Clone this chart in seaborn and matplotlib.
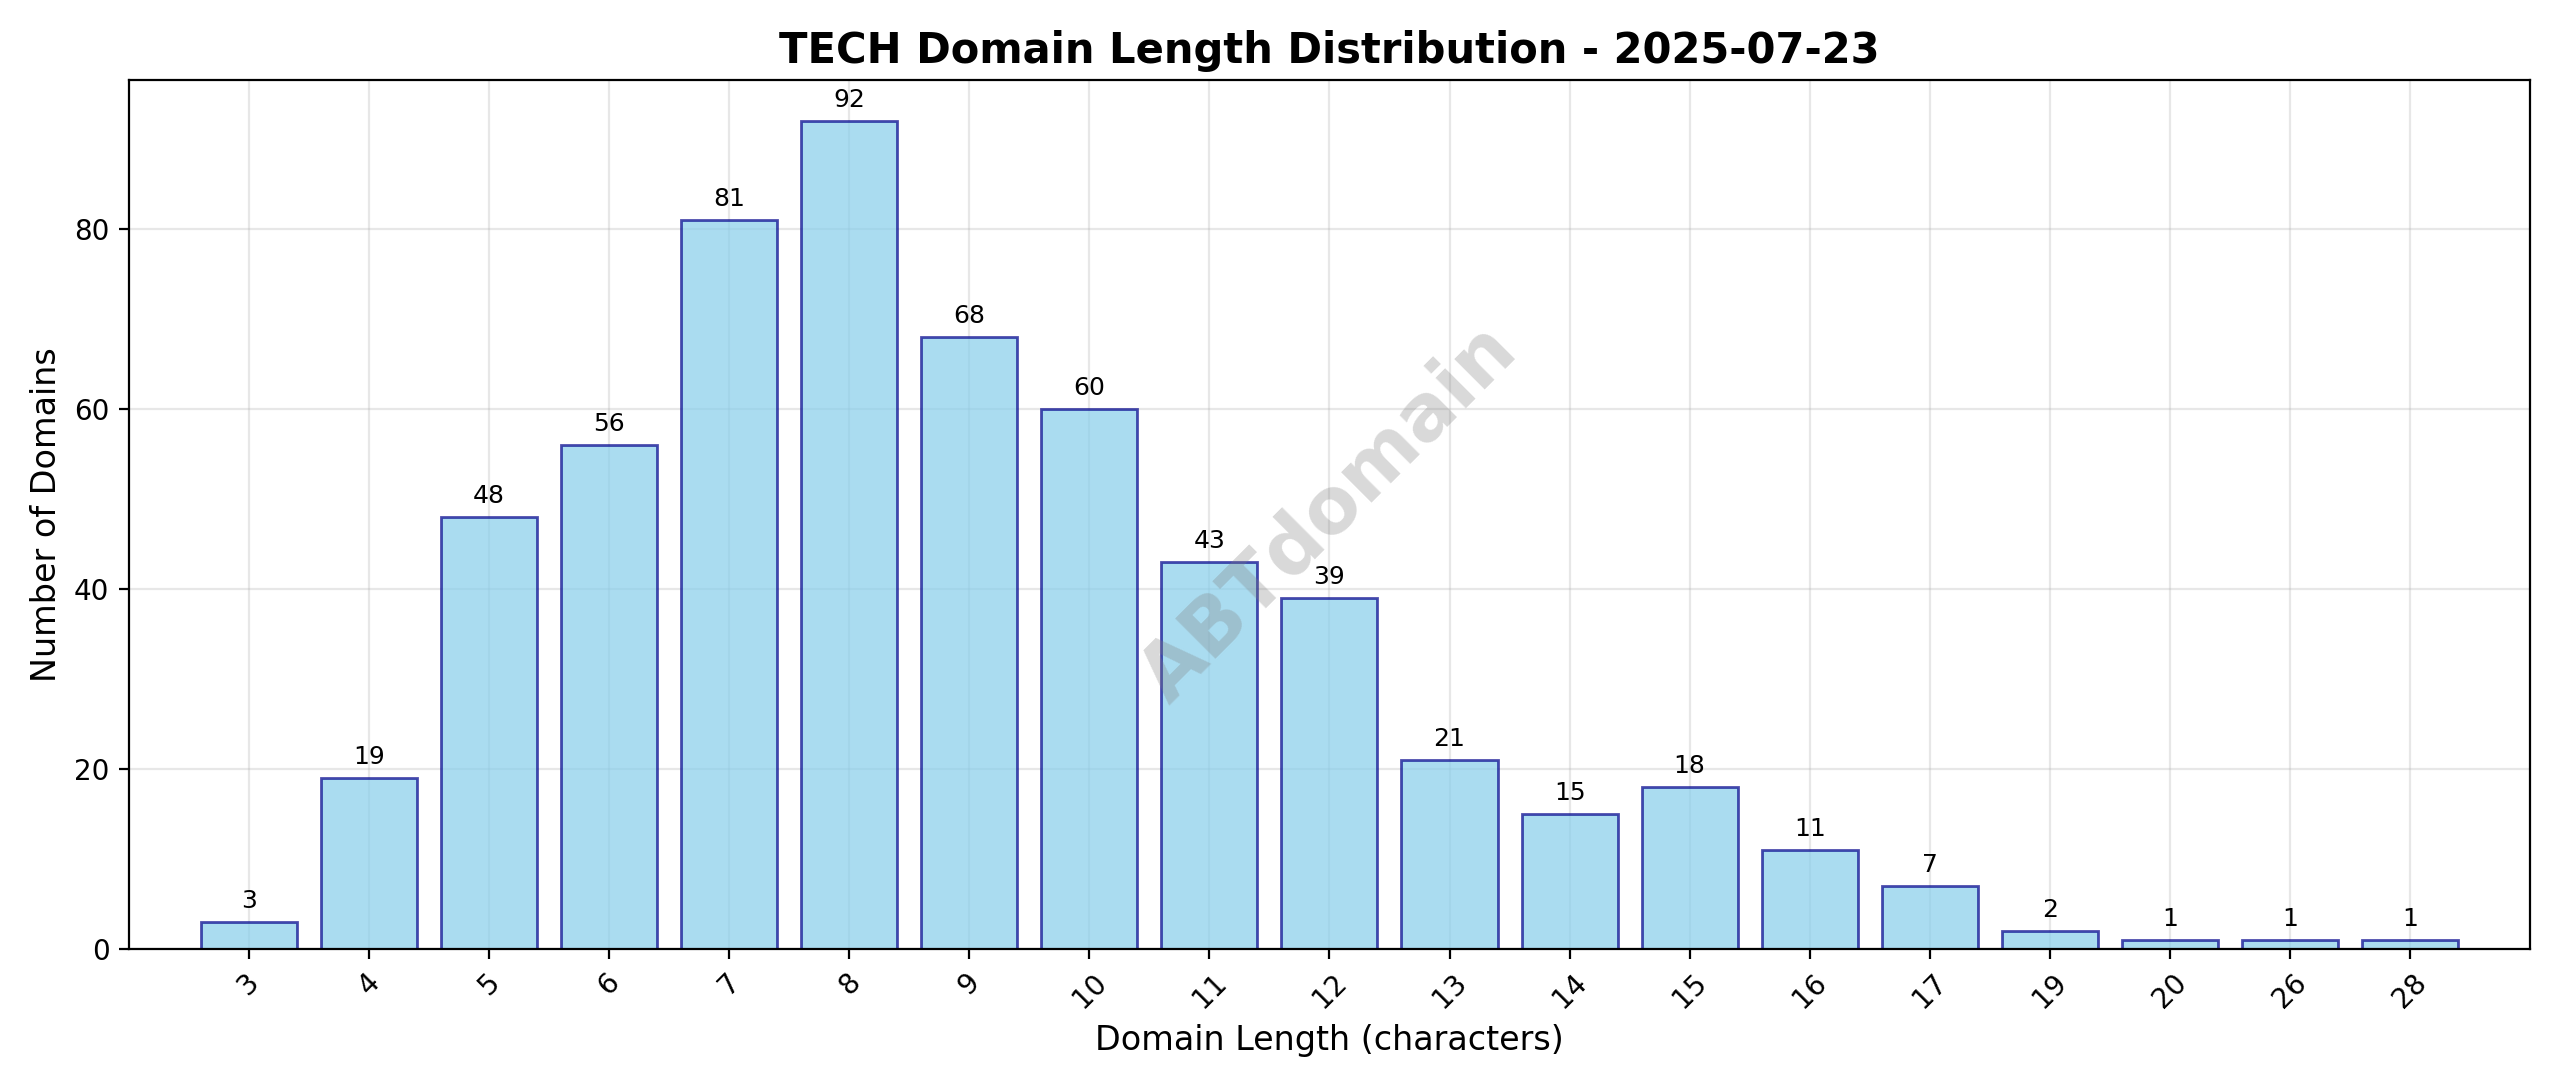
import matplotlib
matplotlib.use("Agg")
import matplotlib.pyplot as plt
import seaborn as sns
import pandas as pd

lengths = ["3","4","5","6","7","8","9","10","11","12","13","14","15","16","17","19","20","26","28"]
counts = [3,19,48,56,81,92,68,60,43,39,21,15,18,11,7,2,1,1,1]

df = pd.DataFrame({"length": lengths, "count": counts})
fig, ax = plt.subplots(figsize=(12.8, 5.435), dpi=200)
sns.barplot(data=df, x="length", y="count", order=lengths, color="skyblue",
            edgecolor="darkblue", linewidth=1, alpha=0.7, width=0.8, ax=ax, saturation=1)
for p, v in zip(ax.patches, counts):
    ax.text(p.get_x() + p.get_width()/2, v + 1, str(v), ha="center", va="bottom", fontsize=9)
ax.set_title("TECH Domain Length Distribution - 2025-07-23", fontsize=15, fontweight="bold")
ax.set_xlabel("Domain Length (characters)", fontsize=12)
ax.set_ylabel("Number of Domains", fontsize=12)
ax.tick_params(axis="x", rotation=45)
ax.grid(True, alpha=0.3)
ax.set_axisbelow(True)
ax.set_xlim(-1.0, len(lengths))
ax.set_ylim(0, 96.6)
ax.text(0.5, 0.5, "ABTdomain", transform=ax.transAxes, fontsize=28, color="gray",
        alpha=0.3, rotation=45, ha="center", va="center", fontweight="bold")
plt.tight_layout()
fig.savefig("out.png", dpi=200)
